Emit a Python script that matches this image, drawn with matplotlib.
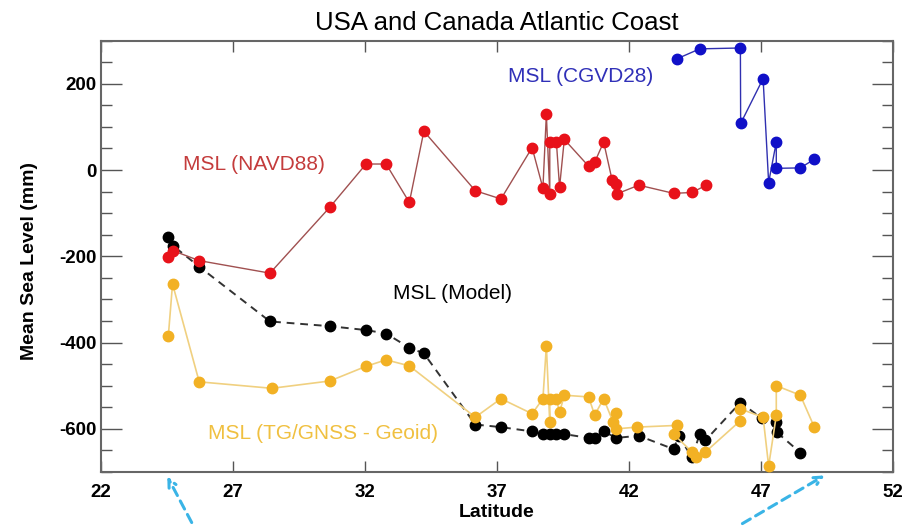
import matplotlib
matplotlib.use("Agg")
import matplotlib.pyplot as plt
from matplotlib.patches import FancyArrowPatch
from matplotlib.ticker import MultipleLocator

plt.rcParams['font.family'] = ['Liberation Sans', 'DejaVu Sans']
plt.rcParams['axes.unicode_minus'] = False

# MSL (NAVD88)
navd_lat = [24.54, 24.73, 25.72, 28.4, 30.67, 32.04, 32.8, 33.68, 34.23, 36.18, 37.15,
            38.33, 38.74, 38.87, 39.0, 39.0, 39.25, 39.37, 39.55, 40.47, 40.7, 41.04,
            41.36, 41.52, 41.55, 42.37, 43.69, 44.39, 44.93]
navd_msl = [-201, -187, -210, -239, -86, 14, 14, -75, 90, -48, -67,
            52, -42, 129, -55, 65, 65, -40, 71, 9, 18, 65,
            -23, -32, -55, -35, -54, -52, -35]

# MSL (CGVD28)
cgvd_lat = [43.82, 44.68, 46.22, 46.23, 47.08, 47.29, 47.58, 47.58, 48.49, 49.02]
cgvd_msl = [258, 281, 283, 108, 212, -29, 65, 4, 5, 25]

# MSL (Model)
model_lat = [24.55, 24.74, 25.72, 28.4, 30.67, 32.04, 32.8, 33.68, 34.23, 36.18, 37.15,
             38.33, 38.74, 39.0, 39.25, 39.53, 40.47, 40.7, 41.04, 41.52, 42.37,
             43.69, 43.88, 44.39, 44.68, 44.89, 46.22, 47.04, 47.58, 47.6, 48.49]
model_msl = [-155, -176, -224, -351, -362, -371, -379, -412, -425, -590, -596,
             -606, -612, -612, -612, -612, -621, -621, -606, -621, -616,
             -647, -617, -666, -612, -627, -539, -576, -583, -608, -655]

# MSL (TG/GNSS - Geoid)
tg_lat = [24.55, 24.71, 25.72, 28.47, 30.67, 32.04, 32.8, 33.68, 36.18, 37.15,
          38.33, 38.74, 38.87, 39.0, 39.0, 39.25, 39.37, 39.55, 40.47, 40.7, 41.04,
          41.39, 41.52, 41.52, 42.3, 43.82, 43.69, 44.39, 44.55, 44.89,
          46.22, 46.22, 47.08, 47.29, 47.58, 47.58, 48.49, 49.02]
tg_msl = [-385, -264, -491, -506, -489, -455, -440, -454, -573, -530,
          -565, -530, -408, -585, -530, -530, -562, -522, -526, -568, -530,
          -583, -563, -600, -596, -592, -612, -654, -666, -654,
          -581, -554, -573, -686, -569, -500, -522, -596]

red = '#e8121a'
blue = '#1010c8'
gold = '#f2b124'

fig = plt.figure(figsize=(9.14, 5.26), dpi=100)
ax = fig.add_axes([0.1105, 0.1027, 0.8665, 0.82])

ax.plot(model_lat, model_msl, color='#333333', ls=(0, (4, 3)), lw=1.4,
        marker='o', ms=7.5, mfc='black', mec='black', zorder=2)
ax.plot(tg_lat, tg_msl, color='#f0d080', lw=1.2,
        marker='o', ms=7.5, mfc=gold, mec=gold, zorder=3)
ax.plot(navd_lat, navd_msl, color='#a05050', lw=1.0,
        marker='o', ms=7.5, mfc=red, mec=red, zorder=4)
ax.plot(cgvd_lat, cgvd_msl, color='#3030b0', lw=1.0,
        marker='o', ms=7.5, mfc=blue, mec=blue, zorder=4)

ax.text(27.78, 14, 'MSL (NAVD88)', color='#c43c3c', fontsize=15, ha='center', va='center')
ax.text(40.16, 216, 'MSL (CGVD28)', color='#3030b8', fontsize=15, ha='center', va='center')
ax.text(35.3, -286, 'MSL (Model)', color='black', fontsize=15, ha='center', va='center')
ax.text(30.42, -610, 'MSL (TG/GNSS - Geoid)', color='#f0c040', fontsize=15,
        ha='center', va='center')

ax.set_xlim(22, 52)
ax.set_ylim(-700, 300)
ax.set_xticks([22, 27, 32, 37, 42, 47, 52])
ax.set_yticks([-600, -400, -200, 0, 200])
ax.yaxis.set_minor_locator(MultipleLocator(50))
ax.tick_params(axis='both', which='both', direction='in', top=True, right=True,
               color='#555555', labelsize=13.5)
ax.tick_params(axis='y', which='major', length=15, width=1)
ax.tick_params(axis='y', which='minor', length=8, width=1)
ax.tick_params(axis='x', which='major', length=8, width=1, pad=9)
for lab in ax.get_xticklabels() + ax.get_yticklabels():
    lab.set_fontweight('bold')
for sp in ax.spines.values():
    sp.set_color('#666666')
    sp.set_linewidth(1.5)

ax.set_xlabel('Latitude', fontsize=14, fontweight='bold')
ax.xaxis.set_label_coords(0.5, -0.075)
ax.set_ylabel('Mean Sea Level (mm)', fontsize=14, fontweight='bold')
ax.yaxis.set_label_coords(-0.08, 0.49)
ax.set_title('USA and Canada Atlantic Coast', fontsize=18.5, pad=8)

# cyan dashed pointers at the bottom
for tail, head in [((193 / 914, 1 - 525 / 526), (166 / 914, 1 - 474 / 526)),
                   ((740 / 914, 1 - 525 / 526), (827 / 914, 1 - 474 / 526))]:
    arr = FancyArrowPatch(tail, head, transform=fig.transFigure, arrowstyle='->',
                          mutation_scale=14, color='#3ab4e6', lw=2.2,
                          linestyle=(0, (3, 2)))
    fig.add_artist(arr)

fig.savefig('out.png', dpi=100)
